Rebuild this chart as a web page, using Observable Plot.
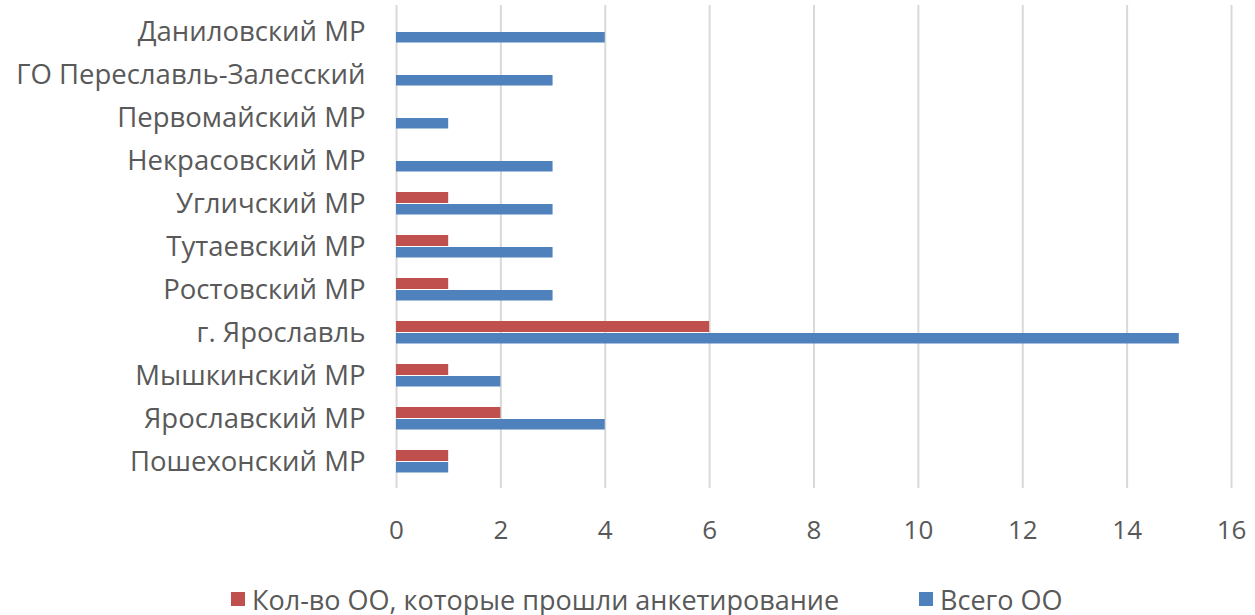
<!DOCTYPE html>
<html><head><meta charset="utf-8">
<script src="https://cdn.jsdelivr.net/npm/d3@7"></script>
<script src="https://cdn.jsdelivr.net/npm/@observablehq/plot@0.6"></script>
<style>
body{margin:0;background:#fff;font-family:"Open Sans",sans-serif;color:#595959;overflow:hidden;}
#wrap{position:relative;width:1255px;height:615px;}
#legend{position:absolute;top:584px;left:0;width:1255px;height:30px;font-size:27px;line-height:1;}
.item{position:absolute;top:0;display:flex;align-items:center;height:30px;white-space:nowrap;}
.item span{line-height:1;}
.sw{width:14px;height:14px;margin-right:7px;}
svg text{fill:#595959;}
</style>
</head><body><div id="wrap"><div id="chart"></div><div id="legend"></div></div>
<script>
const categories = ["Даниловский МР","ГО Переславль-Залесский","Первомайский МР","Некрасовский МР","Угличский МР","Тутаевский МР","Ростовский МР","г. Ярославль","Мышкинский МР","Ярославский МР","Пошехонский МР"];
const totalOO = [4,3,1,3,3,3,3,15,2,4,1];
const surveyedOO = [0,0,0,0,1,1,1,6,1,2,1];
const seriesNames = ["Кол-во ОО, которые прошли анкетирование","Всего ОО"];
const seriesColors = ["#C0504D","#4F81BD"];
const xTicks = [0,2,4,6,8,10,12,14,16];

const rows = categories.map((c,i)=>({category:c,total:totalOO[i],surveyed:surveyedOO[i]}));

const chart = Plot.plot({
  width:1255, height:555,
  marginLeft:396, marginRight:24, marginTop:5, marginBottom:67,
  style:{fontFamily:"'Open Sans',sans-serif", color:"#595959", background:"#fff"},
  x:{domain:[0,16]},
  y:{domain:categories, padding:0},
  marks:[
    Plot.gridX(xTicks,{stroke:"#d9d9d9", strokeOpacity:1, strokeWidth:2}),
    Plot.barX(rows,{x:"surveyed", y:"category", fill:seriesColors[0], insetTop:10, insetBottom:22}),
    Plot.barX(rows,{x:"total", y:"category", fill:seriesColors[1], insetTop:22, insetBottom:10.5}),
    Plot.axisX(xTicks,{tickSize:0, tickPadding:32, fontSize:26, label:null}),
    Plot.axisY({tickSize:0, tickPadding:31, fontSize:27.5, label:null})
  ]
});
document.getElementById("chart").appendChild(chart);

const legend = document.getElementById("legend");
const lefts = [231, 919];
seriesNames.forEach((n,i)=>{
  const it = document.createElement("div");
  it.className = "item";
  it.style.left = lefts[i] + "px";
  it.innerHTML = `<span class="sw" style="background:${seriesColors[i]}"></span><span>${n}</span>`;
  legend.appendChild(it);
});
</script></body></html>
